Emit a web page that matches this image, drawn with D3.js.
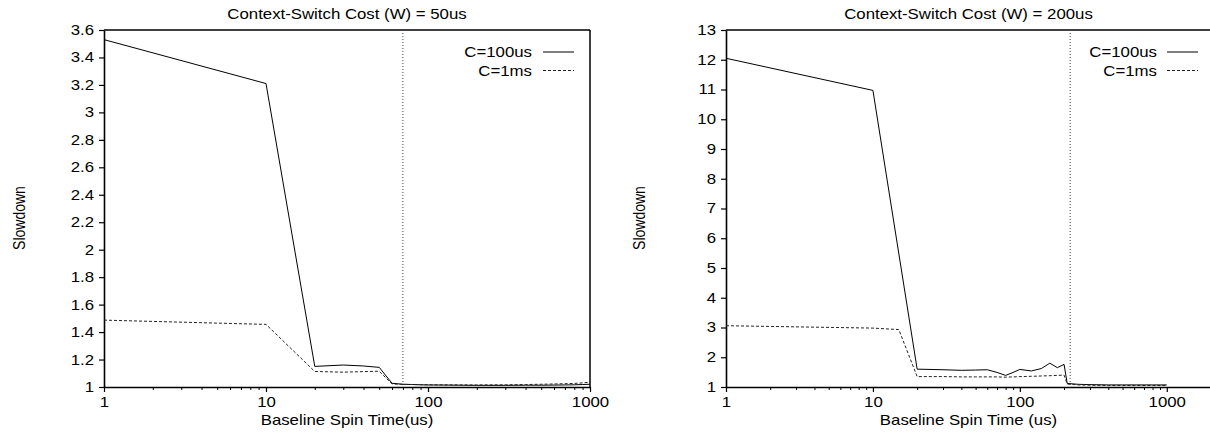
<!DOCTYPE html>
<html><head><meta charset="utf-8">
<script src="https://cdn.jsdelivr.net/npm/d3@7"></script>
<style>
body{margin:0;background:#fff;}
text{font-family:"Liberation Sans",Arial,Helvetica,sans-serif;font-size:14px;fill:#000;}
</style></head><body>
<svg id="c" width="1210" height="434"></svg>
<script>
// ---- data ----
const titles = ["Context-Switch Cost (W) = 50us", "Context-Switch Cost (W) = 200us"];
const xTitles = ["Baseline Spin Time(us)", "Baseline Spin Time (us)"];
const yTitle = "Slowdown";
const seriesNames = ["C=100us", "C=1ms"];

const leftX100 = [1, 10, 20, 30, 40, 50, 60, 70, 80, 90, 100, 200, 300, 400, 500, 600, 700, 800, 900, 1000];
const leftY100 = [3.53, 3.21, 1.15, 1.16, 1.153, 1.143, 1.027, 1.02, 1.018, 1.016, 1.015, 1.012, 1.012, 1.013, 1.013, 1.014, 1.015, 1.016, 1.018, 1.02];
const leftX1ms = [1, 10, 20, 30, 40, 50, 60, 70, 80, 90, 100, 200, 300, 400, 500, 600, 700, 800, 900, 1000];
const leftY1ms = [1.487, 1.456, 1.113, 1.108, 1.112, 1.115, 1.022, 1.019, 1.018, 1.017, 1.016, 1.015, 1.016, 1.018, 1.02, 1.022, 1.024, 1.026, 1.03, 1.035];

const rightX100 = [1, 10, 20, 30, 40, 50, 60, 70, 80, 90, 100, 120, 140, 160, 180, 200, 210, 250, 300, 400, 500, 600, 700, 800, 900, 1000];
const rightY100 = [12.05, 10.97, 1.6, 1.58, 1.56, 1.57, 1.58, 1.49, 1.39, 1.49, 1.59, 1.54, 1.62, 1.8, 1.65, 1.76, 1.12, 1.09, 1.08, 1.07, 1.07, 1.07, 1.07, 1.07, 1.07, 1.07];
const rightX1ms = [1, 10, 15, 20, 30, 40, 50, 60, 70, 80, 90, 100, 120, 140, 160, 180, 200, 210, 250, 300, 400, 500, 600, 700, 800, 900, 1000];
const rightY1ms = [3.06, 2.98, 2.93, 1.35, 1.35, 1.34, 1.34, 1.34, 1.34, 1.33, 1.34, 1.35, 1.36, 1.37, 1.38, 1.39, 1.40, 1.1, 1.07, 1.06, 1.05, 1.05, 1.05, 1.05, 1.05, 1.05, 1.05];

const markerX = [70, 220];
const xDomains = [[1, 1000], [1, 2000]];
const yDomains = [[1, 3.6], [1, 13]];
const yTickValues = [d3.range(0, 14).map(i => 1 + i * 0.2), d3.range(1, 14)];
const xMajorTicks = [1, 10, 100, 1000];

// ---- layout ----
const SX = 1.2;
const panels = [
  {x0: 104, x1: 590, rightBorder: true, series: [[leftX100, leftY100], [leftX1ms, leftY1ms]], yFmt: d => String(+d.toFixed(1)), ylabX: 20},
  {x0: 726, x1: 1211, rightBorder: false, series: [[rightX100, rightY100], [rightX1ms, rightY1ms]], yFmt: d => String(d), ylabX: 640}
];
const yTop = 30, yBot = 387;
const svg = d3.select("#c");
const dashes = [null, "3,2"];
const lineColors = ["#000", "#222"];

panels.forEach((p, i) => {
  const x = d3.scaleLog().domain(xDomains[i]).range([p.x0, p.x1]);
  const y = d3.scaleLinear().domain(yDomains[i]).range([yBot, yTop]);
  const g = svg.append("g");

  // minor x ticks
  const minor = [];
  for (let dec = 1; dec < xDomains[i][1]; dec *= 10)
    for (let k = 2; k <= 9; k++) { const v = dec * k; if (v <= xDomains[i][1]) minor.push(v); }
  const gm = g.append("g").attr("transform", `translate(0,${yBot})`)
    .call(d3.axisBottom(x).tickValues(minor).tickSize(3).tickFormat(""));
  gm.select(".domain").remove();
  gm.selectAll("line").attr("stroke-width", 1);

  // major x axis
  const gx = g.append("g").attr("transform", `translate(0,${yBot})`)
    .call(d3.axisBottom(x).tickValues(xMajorTicks).tickSize(5).tickSizeOuter(0).tickFormat(d3.format("d")));
  gx.select(".domain").attr("stroke-width", 1.6);
  gx.selectAll("line").attr("stroke-width", 1.2);
  gx.selectAll("text").attr("y", 10).attr("transform", `scale(${SX},1)`).style("font-size", "14px").style("font-family", "Liberation Sans, Arial, sans-serif");

  // y axis
  const gy = g.append("g").attr("transform", `translate(${p.x0},0)`)
    .call(d3.axisLeft(y).tickValues(yTickValues[i]).tickSize(5).tickSizeOuter(0).tickFormat(p.yFmt));
  gy.select(".domain").attr("stroke-width", 1.6);
  gy.selectAll("line").attr("stroke-width", 1.2);
  gy.selectAll("text").attr("x", -10 / SX).attr("transform", `scale(${SX},1)`).style("font-size", "14px").style("font-family", "Liberation Sans, Arial, sans-serif");

  // top border & right border
  g.append("line").attr("x1", p.x0).attr("x2", p.x1).attr("y1", yTop).attr("y2", yTop).attr("stroke", "#000").attr("stroke-width", 1.5);
  if (p.rightBorder)
    g.append("line").attr("x1", p.x1).attr("x2", p.x1).attr("y1", yTop).attr("y2", yBot).attr("stroke", "#000").attr("stroke-width", 1.5);

  // vertical dotted marker
  g.append("line").attr("x1", x(markerX[i])).attr("x2", x(markerX[i])).attr("y1", yTop).attr("y2", yBot)
    .attr("stroke", "#444").attr("stroke-width", 1).attr("stroke-dasharray", "1,2");

  // series
  const line = d3.line().x(d => x(d[0])).y(d => y(d[1]));
  p.series.forEach((s, j) => {
    const pts = s[0].map((xv, k) => [xv, s[1][k]]);
    g.append("path").datum(pts).attr("d", line).attr("fill", "none")
      .attr("stroke", lineColors[j]).attr("stroke-width", 1)
      .attr("stroke-dasharray", dashes[j]);
  });

  // legend
  const legRight = i === 0 ? 532 : 1157;
  const legLine0 = i === 0 ? 543 : 1167;
  const legYs = [52, 70.5];
  seriesNames.forEach((name, j) => {
    g.append("text").attr("transform", `translate(${legRight},${legYs[j] + 5}) scale(${SX},1)`)
      .attr("text-anchor", "end").text(name);
    g.append("line").attr("x1", legLine0).attr("x2", legLine0 + 31).attr("y1", legYs[j]).attr("y2", legYs[j])
      .attr("stroke", lineColors[j]).attr("stroke-width", 1).attr("stroke-dasharray", dashes[j]);
  });

  // titles
  const cx = (p.x0 + p.x1) / 2;
  g.append("text").attr("transform", `translate(${cx},19) scale(${SX},1)`).attr("text-anchor", "middle").text(titles[i]);
  g.append("text").attr("transform", `translate(${cx},425) scale(${SX},1)`).attr("text-anchor", "middle").text(xTitles[i]);
  g.append("text").attr("transform", `translate(${p.ylabX + 5},218) scale(${SX},1) rotate(-90)`).attr("text-anchor", "middle").text(yTitle);
});
</script>
</body></html>
